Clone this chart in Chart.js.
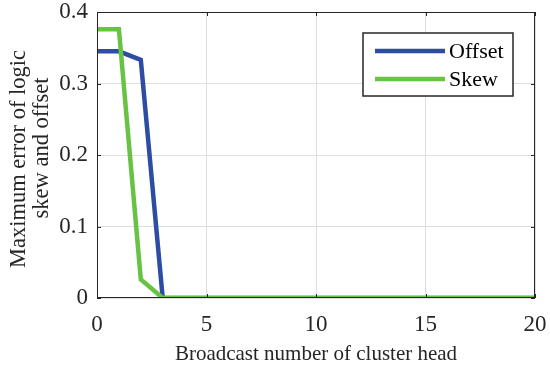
<!DOCTYPE html>
<html>
<head>
<meta charset="utf-8">
<script src="https://cdn.jsdelivr.net/npm/chart.js@4.4.1/dist/chart.umd.min.js"></script>
<style>
  html, body { margin: 0; padding: 0; background: #fff; }
  #wrap { width: 550px; height: 365px; }
</style>
</head>
<body>
<div id="wrap"><canvas id="chart" width="550" height="365"></canvas></div>
<script>
// broadcast number of cluster head
const broadcasts = [0, 1, 2, 3, 4, 5, 6, 7, 8, 9, 10, 11, 12, 13, 14, 15, 16, 17, 18, 19, 20];
const offsetErr = [0.345, 0.345, 0.333, 0, 0, 0, 0, 0, 0, 0, 0, 0, 0, 0, 0, 0, 0, 0, 0, 0, 0];
const skewErr = [0.376, 0.376, 0.026, 0, 0, 0, 0, 0, 0, 0, 0, 0, 0, 0, 0, 0, 0, 0, 0, 0, 0];
const xTicks = [0, 5, 10, 15, 20];
const yTicks = [0, 0.1, 0.2, 0.3, 0.4];
const yTitle = ['Maximum error of logic', 'skew and offset'];
const xTitle = 'Broadcast number of cluster head';

const FONT = '"Liberation Serif", "Times New Roman", serif';
const BLUE = '#2d4ca3';
const GREEN = '#68c244';

const toPoints = (ys) => broadcasts.map((x, i) => ({ x: x, y: ys[i] }));

// box, inward ticks, titles and legend like the matlab figure
const matlabBox = {
  id: 'matlabBox',
  afterDraw(chart) {
    const { ctx, chartArea: a, scales } = chart;
    ctx.save();
    ctx.strokeStyle = '#262626';
    ctx.lineWidth = 1;
    ctx.strokeRect(a.left + 0.5, a.top + 0.5, a.right - a.left - 1, a.bottom - a.top - 1);
    ctx.beginPath();
    xTicks.forEach(t => {
      const px = Math.round(scales.x.getPixelForValue(t)) + 0.5;
      ctx.moveTo(px, a.bottom); ctx.lineTo(px, a.bottom - 4);
      ctx.moveTo(px, a.top); ctx.lineTo(px, a.top + 4);
    });
    yTicks.forEach(t => {
      const py = Math.round(scales.y.getPixelForValue(t)) + 0.5;
      ctx.moveTo(a.left, py); ctx.lineTo(a.left + 4, py);
      ctx.moveTo(a.right, py); ctx.lineTo(a.right - 4, py);
    });
    ctx.stroke();

    // axis titles
    ctx.fillStyle = '#262626';
    ctx.textAlign = 'center';
    ctx.textBaseline = 'alphabetic';
    ctx.font = '21px ' + FONT;
    ctx.fillText(xTitle, (a.left + a.right) / 2, 360);
    ctx.font = '22.5px ' + FONT;
    ctx.save();
    ctx.translate(25, 159);
    ctx.rotate(-Math.PI / 2);
    ctx.fillText(yTitle[0], 0, 0);
    ctx.restore();
    ctx.save();
    ctx.translate(48, 148);
    ctx.rotate(-Math.PI / 2);
    ctx.fillText(yTitle[1], 0, 0);
    ctx.restore();

    // legend
    const lx = 363, ly = 33, lw = 150, lh = 63;
    ctx.fillStyle = '#fff';
    ctx.fillRect(lx, ly, lw, lh);
    ctx.strokeStyle = '#262626';
    ctx.lineWidth = 1.5;
    ctx.strokeRect(lx, ly, lw, lh);
    ctx.font = '22px ' + FONT;
    ctx.textAlign = 'left';
    ctx.textBaseline = 'middle';
    chart.data.datasets.forEach((ds, i) => {
      const y = ly + 18 + i * 28;
      ctx.strokeStyle = ds.borderColor;
      ctx.lineWidth = 4.5;
      ctx.beginPath();
      ctx.moveTo(375, y); ctx.lineTo(445, y);
      ctx.stroke();
      ctx.fillStyle = '#000';
      ctx.fillText(ds.label, 449, y + 1);
    });
    ctx.restore();
  }
};

new Chart(document.getElementById('chart'), {
  type: 'line',
  data: {
    datasets: [
      // skew is plotted after offset in the figure, so it sits on top
      { label: 'Offset', data: toPoints(offsetErr), borderColor: BLUE, borderWidth: 4.5, pointRadius: 0, tension: 0, fill: false, order: 1 },
      { label: 'Skew', data: toPoints(skewErr), borderColor: GREEN, borderWidth: 4.5, pointRadius: 0, tension: 0, fill: false, order: 0 }
    ]
  },
  options: {
    responsive: false,
    animation: false,
    events: [],
    layout: { padding: { left: 0, top: 12, right: 15, bottom: 0 } },
    plugins: { legend: { display: false }, tooltip: { enabled: false } },
    scales: {
      x: {
        type: 'linear',
        min: 0, max: 20,
        afterBuildTicks: (s) => { s.ticks = xTicks.map(v => ({ value: v })); },
        afterFit: (s) => { s.height = 67; s.paddingLeft = 0; s.paddingRight = 0; },
        grid: { color: '#dedede', lineWidth: 1, drawTicks: false },
        border: { display: false },
        ticks: { color: '#262626', font: { family: FONT, size: 23 }, padding: 13, maxRotation: 0 }
      },
      y: {
        min: 0, max: 0.4,
        afterBuildTicks: (s) => { s.ticks = yTicks.map(v => ({ value: v })); },
        afterFit: (s) => { s.width = 97; s.paddingTop = 0; s.paddingBottom = 0; },
        grid: { color: '#dedede', lineWidth: 1, drawTicks: false },
        border: { display: false },
        ticks: { color: '#262626', font: { family: FONT, size: 23 }, padding: 9, callback: (v) => String(v) }
      }
    }
  },
  plugins: [matlabBox]
});
</script>
</body>
</html>
